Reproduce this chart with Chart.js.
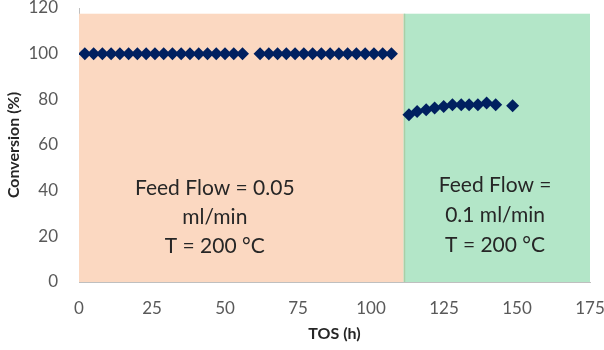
<!DOCTYPE html>
<html>
<head>
<meta charset="utf-8">
<script src="https://cdn.jsdelivr.net/npm/chart.js@4"></script>
<style>
  html, body { margin: 0; padding: 0; background: #ffffff; }
  #wrap { width: 604px; height: 350px; }
</style>
</head>
<body>
<div id="wrap"><canvas id="chart"></canvas></div>
<script>
// TOS (h) and conversion (%)
const tosLow = [2, 5, 8, 11, 14, 17, 20, 23, 26, 29, 32, 35, 38, 41, 44, 47, 50, 53, 56,
                62, 65, 68, 71, 74, 77, 80, 83, 86, 89, 92, 95, 98, 101, 104, 107];
const convLow = [100, 100, 100, 100, 100, 100, 100, 100, 100, 100, 100, 100, 100, 100, 100, 100, 100, 100, 100,
                 100, 100, 100, 100, 100, 100, 100, 100, 100, 100, 100, 100, 100, 100, 100, 100];
const tosHigh = [113, 115.8, 118.9, 121.8, 124.9, 127.9, 130.9, 133.6, 136.6, 139.6, 142.7, 148.5];
const convHigh = [73.2, 74.7, 75.4, 76.2, 76.9, 77.6, 77.6, 77.6, 77.6, 78.4, 77.6, 77.2];

// regions: [from, to] on TOS axis
const regionLow = [0, 111.2];
const regionHigh = [111.2, 175];
const regionTop = 117.5;
const labelLow = ['Feed Flow = 0.05', 'ml/min', 'T = 200 °C'];
const labelHigh = ['Feed Flow =', '0.1 ml/min', 'T = 200 °C'];

const fontFamily = 'Lato, "Open Sans", sans-serif';

function toPoints(xs, ys) {
    return xs.map((x, i) => ({ x: x, y: ys[i] }));
}

// background regions and their labels
const regionPlugin = {
    id: 'regions',
    beforeDatasetsDraw(chart) {
        const { ctx, scales: { x, y } } = chart;
        const top = y.getPixelForValue(regionTop);
        const bottom = y.getPixelForValue(0);
        ctx.save();
        ctx.fillStyle = '#fbd8c1';
        ctx.fillRect(x.getPixelForValue(regionLow[0]), top,
            x.getPixelForValue(regionLow[1]) - x.getPixelForValue(regionLow[0]), bottom - top);
        ctx.fillStyle = '#b3e6c8';
        ctx.fillRect(x.getPixelForValue(regionHigh[0]), top,
            x.getPixelForValue(regionHigh[1]) - x.getPixelForValue(regionHigh[0]), bottom - top);
        const bx = Math.round(x.getPixelForValue(regionHigh[0])) + 0.5;
        ctx.strokeStyle = '#a9cfa6';
        ctx.lineWidth = 1.5;
        ctx.beginPath();
        ctx.moveTo(bx, top);
        ctx.lineTo(bx, bottom);
        ctx.stroke();

        ctx.fillStyle = '#262626';
        ctx.font = '21px ' + fontFamily;
        ctx.textAlign = 'center';
        ctx.textBaseline = 'middle';
        labelLow.forEach((t, i) => {
            ctx.fillText(t, x.getPixelForValue(46.5), y.getPixelForValue(41) + i * 29);
        });
        labelHigh.forEach((t, i) => {
            ctx.fillText(t, x.getPixelForValue(142.5), y.getPixelForValue(42.5) + i * 30);
        });
        ctx.restore();
    }
};

const ctx = document.getElementById('chart').getContext('2d');
new Chart(ctx, {
    type: 'scatter',
    data: {
        datasets: [{
            label: '0.05 ml/min',
            data: toPoints(tosLow, convLow),
            backgroundColor: '#002060',
            borderColor: '#002060',
            pointStyle: 'rectRot',
            pointRadius: 6.5,
            borderWidth: 0
        }, {
            label: '0.1 ml/min',
            data: toPoints(tosHigh, convHigh),
            backgroundColor: '#002060',
            borderColor: '#002060',
            pointStyle: 'rectRot',
            pointRadius: 6.5,
            borderWidth: 0
        }]
    },
    options: {
        responsive: true,
        maintainAspectRatio: false,
        animation: false,
        layout: { padding: { left: 0, right: 14, top: 8, bottom: 0 } },
        plugins: {
            legend: { display: false },
            tooltip: { enabled: false }
        },
        scales: {
            x: {
                type: 'linear',
                min: 0,
                max: 175,
                afterFit: (scale) => {
                    scale.height = 68;
                    scale.paddingLeft = 0;
                    scale.paddingRight = 0;
                },
                grid: { display: false, drawTicks: false },
                border: { display: true, color: '#bfbfbf', width: 1 },
                ticks: {
                    stepSize: 25,
                    padding: 16,
                    color: '#595959',
                    font: { size: 17, family: fontFamily }
                },
                title: {
                    display: true,
                    text: 'TOS (h)',
                    color: '#262626',
                    font: { size: 16, weight: 'bold', family: fontFamily },
                    padding: { top: 0, bottom: 7 }
                }
            },
            y: {
                min: 0,
                max: 120,
                afterFit: (scale) => {
                    scale.width = 79;
                    scale.paddingTop = 0;
                    scale.paddingBottom = 0;
                },
                grid: { display: false, drawTicks: false },
                border: { display: true, color: '#bfbfbf', width: 1 },
                ticks: {
                    stepSize: 20,
                    padding: 21,
                    color: '#595959',
                    font: { size: 17, family: fontFamily }
                },
                title: {
                    display: true,
                    text: 'Conversion (%)',
                    color: '#262626',
                    font: { size: 16, weight: 'bold', family: fontFamily },
                    padding: { top: 4, bottom: 4 }
                }
            }
        }
    },
    plugins: [regionPlugin]
});
</script>
</body>
</html>
